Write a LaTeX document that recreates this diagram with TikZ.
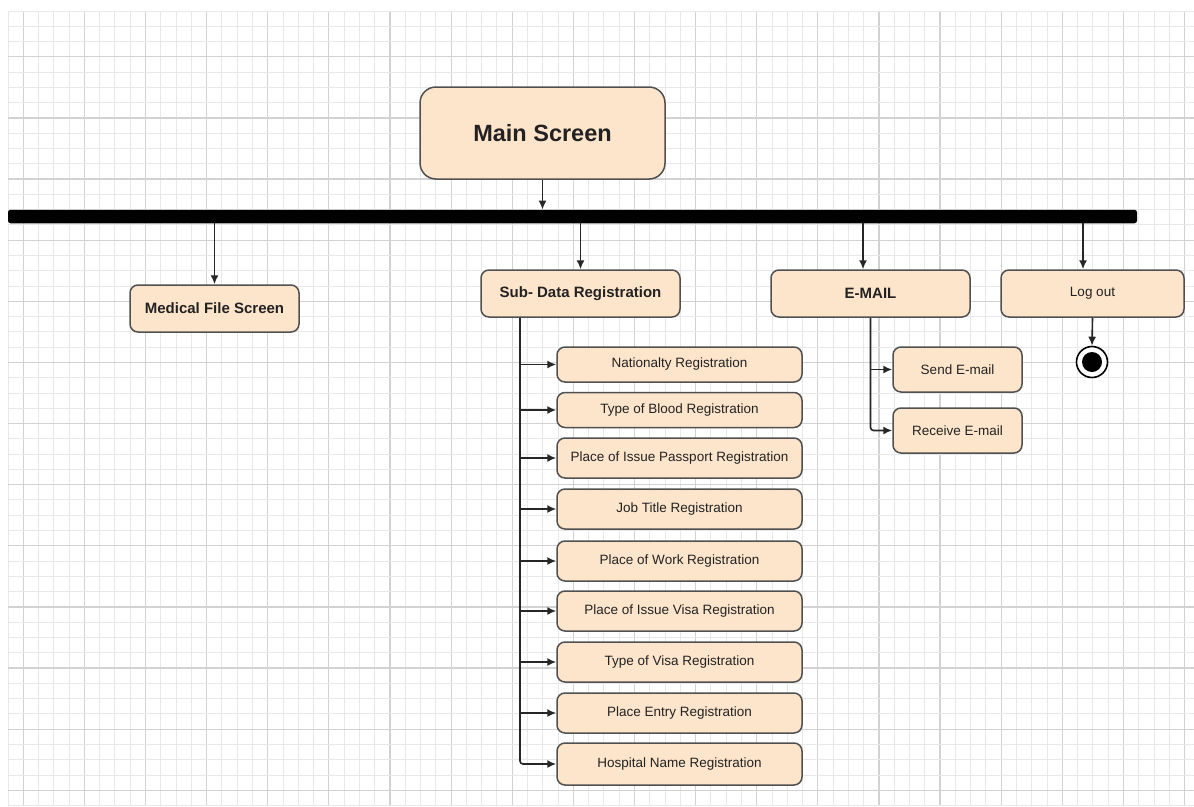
\documentclass[tikz,border=0pt]{standalone}
\usepackage{fontspec}
\setmainfont{Liberation Sans}
\usetikzlibrary{arrows.meta,calc}

\definecolor{boxfill}{HTML}{FDE5CC}
\definecolor{boxline}{HTML}{505050}
\definecolor{gridminor}{HTML}{E8E8E8}
\definecolor{gridmajor}{HTML}{D2D2D2}
\definecolor{txt}{HTML}{222222}

\tikzset{
  screen/.style={draw=boxline, line width=1.5pt, fill=boxfill, rounded corners=8pt,
    inner sep=0pt, text=txt, align=center},
  bigscreen/.style={screen, rounded corners=16pt, font=\fontsize{23.5}{27}\selectfont\bfseries},
  boldscreen/.style={screen, font=\fontsize{15}{18}\selectfont\bfseries},
  plainscreen/.style={screen, font=\fontsize{13.5}{16}\selectfont},
  arr/.style={draw=black!85, line width=1.6pt, -{Latex[length=9pt,width=8pt]}},
}

\begin{document}
\begin{tikzpicture}[x=1pt, y=-1pt]
\useasboundingbox (0,0) rectangle (1194,806);
\fill[white] (0,0) rectangle (1194,806);

% background grid
\foreach \i in {0,...,78} {
  \pgfmathsetmacro{\gx}{8+15.28*\i}
  \pgfmathtruncatemacro{\gm}{mod(\i,4)}
  \ifnum\gm=1
    \draw[gridmajor, line width=1.2pt] (\gx,11) -- (\gx,806);
  \else
    \draw[gridminor, line width=1pt] (\gx,11) -- (\gx,806);
  \fi
}
\foreach \j in {0,...,52} {
  \pgfmathsetmacro{\gy}{11+15.28*\j}
  \pgfmathtruncatemacro{\gm}{mod(\j,4)}
  \ifnum\gm=3
    \draw[gridmajor, line width=1.2pt] (8,\gy) -- (1194,\gy);
  \else
    \draw[gridminor, line width=1pt] (8,\gy) -- (1194,\gy);
  \fi
}

% fork bar
\node[fill=black, rounded corners=2.5pt, minimum width=1129pt, minimum height=13.5pt,
      inner sep=0pt] (bar) at (572.5,216.5) {};

% top level
\node[bigscreen, minimum width=245pt, minimum height=92pt] (main) at (542.5,133) {Main Screen};

\node[boldscreen, minimum width=169pt, minimum height=47pt] (med) at (214.5,308.5) {Medical File Screen};
\node[boldscreen, minimum width=199pt, minimum height=47pt] (sub) at (580.5,293.5) {Sub- Data Registration};
\node[boldscreen, minimum width=199pt, minimum height=47pt] (email) at (870.5,293.5) {E-MAIL};
\node[plainscreen, minimum width=183pt, minimum height=47pt] (logout) at (1092.5,293.5) {Log out};

% e-mail actions
\node[plainscreen, minimum width=129pt, minimum height=45pt] (send) at (957.5,369.5) {Send E-mail};
\node[plainscreen, minimum width=129pt, minimum height=45pt] (recv) at (957.5,430.5) {Receive E-mail};

% registration screens
\node[plainscreen, minimum width=245pt, minimum height=35pt] (r1) at (679.5,364.5) {Nationalty Registration};
\node[plainscreen, minimum width=245pt, minimum height=35pt] (r2) at (679.5,410) {Type of Blood Registration};
\node[plainscreen, minimum width=245pt, minimum height=40pt] (r3) at (679.5,458) {Place of Issue Passport Registration};
\node[plainscreen, minimum width=245pt, minimum height=40pt] (r4) at (679.5,509) {Job Title Registration};
\node[plainscreen, minimum width=245pt, minimum height=40pt] (r5) at (679.5,561) {Place of Work Registration};
\node[plainscreen, minimum width=245pt, minimum height=40pt] (r6) at (679.5,611) {Place of Issue Visa Registration};
\node[plainscreen, minimum width=245pt, minimum height=40pt] (r7) at (679.5,662) {Type of Visa Registration};
\node[plainscreen, minimum width=245pt, minimum height=40pt] (r8) at (679.5,713) {Place Entry Registration};
\node[plainscreen, minimum width=245pt, minimum height=42pt] (r9) at (679.5,764) {Hospital Name Registration};

% final state
\node[circle, draw=black, line width=1.6pt, fill=white, minimum size=31pt, inner sep=0pt] (final) at (1092,362) {};
\node[circle, fill=black, minimum size=20pt, inner sep=0pt] (finaldot) at (final.center) {};

% connectors: main screen into the bar, bar out to each screen
\draw[arr] (main.south) -- (main.south |- bar.north);
\draw[arr] (med.north |- bar.south) -- (med.north);
\draw[arr] (sub.north |- bar.south) -- (sub.north);
\coordinate (emailin) at ([xshift=-7.5pt]email.north);
\draw[arr] (emailin |- bar.south) -- (emailin);
\coordinate (logoutin) at ([xshift=-9.5pt]logout.north);
\draw[arr] (logoutin |- bar.south) -- (logoutin);
\draw[arr] (logout.south) -- (final.north);

% e-mail branch
\draw[arr, rounded corners=3pt] (email.south) |- (recv.west);
\draw[arr] (email.south |- send.west) -- (send.west);

% registration branch
\coordinate (subtrunk) at ([xshift=-60.5pt]sub.south);
\draw[arr, rounded corners=3pt] (subtrunk) |- (r9.west);
\foreach \n in {r1,r2,r3,r4,r5,r6,r7,r8} {
  \draw[arr] (subtrunk |- \n.west) -- (\n.west);
}
\end{tikzpicture}
\end{document}
